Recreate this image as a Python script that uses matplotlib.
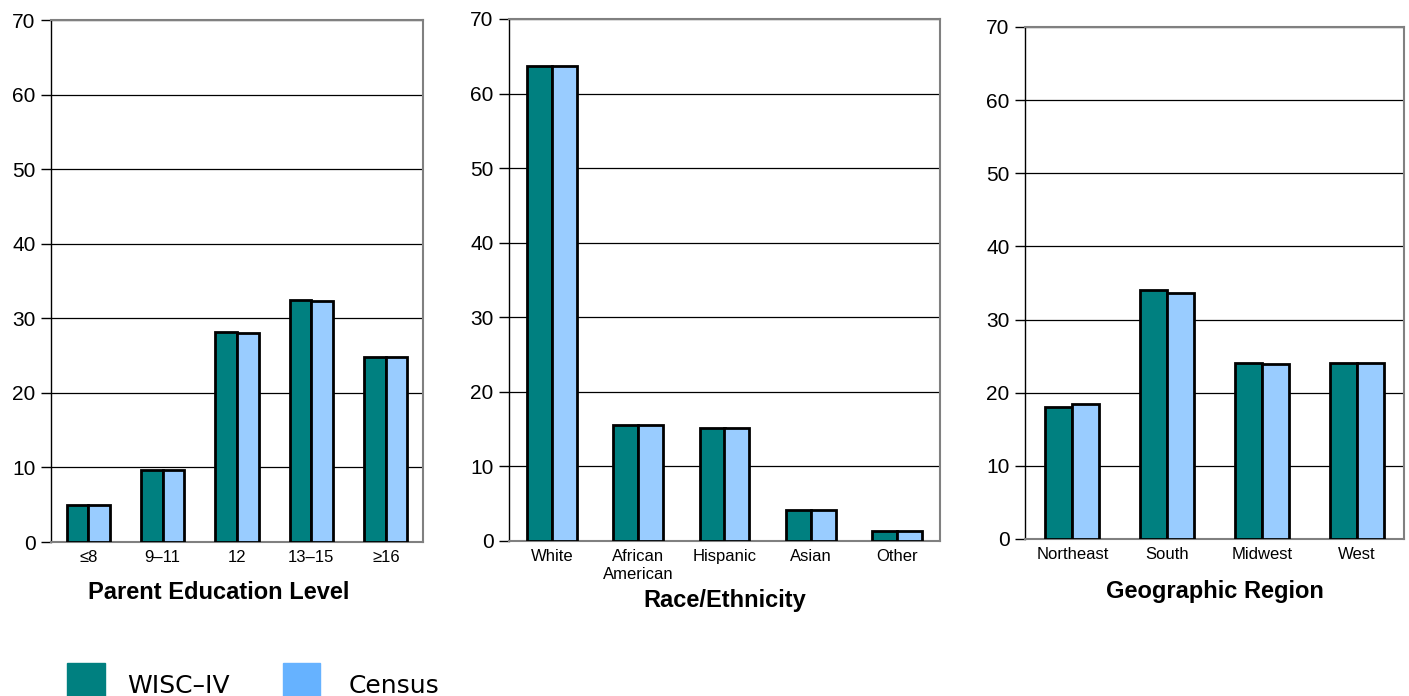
import matplotlib
matplotlib.use("Agg")
import matplotlib.pyplot as plt
import matplotlib.patches as mpatches
import numpy as np

plt.rcParams['font.family'] = ['Liberation Sans', 'DejaVu Sans']

# data
edu_labels = ['≤8', '9–11', '12', '13–15', '≥16']
edu_wisc = [4.9, 9.7, 28.1, 32.4, 24.8]
edu_census = [4.9, 9.7, 28.0, 32.3, 24.8]

race_labels = ['White', 'African\nAmerican', 'Hispanic', 'Asian', 'Other']
race_wisc = [63.7, 15.6, 15.2, 4.1, 1.3]
race_census = [63.7, 15.6, 15.2, 4.1, 1.3]

region_labels = ['Northeast', 'South', 'Midwest', 'West']
region_wisc = [18.0, 34.0, 24.0, 24.1]
region_census = [18.5, 33.7, 23.9, 24.0]

TEAL = '#008080'
LIGHT = '#99CCFF'
W, H = 1409, 696

fig = plt.figure(figsize=(W / 100, H / 100), dpi=100)


def px_axes(left, top, right, bottom):
    return fig.add_axes([left / W, 1 - bottom / H, (right - left) / W, (bottom - top) / H])


def panel(ax, labels, wisc, census, xlabel, bw, xlab_pad):
    n = len(labels)
    x = np.arange(n)
    ax.bar(x - bw / 2, wisc, bw, color=TEAL, edgecolor='black', linewidth=2.0, zorder=3)
    ax.bar(x + bw / 2, census, bw, color=LIGHT, edgecolor='black', linewidth=2.0, zorder=3)
    ax.set_xlim(-0.5, n - 0.5)
    ax.set_ylim(0, 70)
    ax.set_yticks(range(0, 71, 10))
    ax.yaxis.grid(True, color='black', linewidth=0.9, zorder=0)
    ax.set_axisbelow(True)
    ax.set_xticks(x)
    ax.set_xticklabels(labels, fontsize=12)
    ax.tick_params(axis='x', length=0, pad=6)
    ax.tick_params(axis='y', labelsize=15, length=7, width=1, pad=4)
    for s in ['top', 'right', 'bottom']:
        ax.spines[s].set_color('#808080')
        ax.spines[s].set_linewidth(1.5)
    ax.spines['left'].set_color('black')
    ax.spines['left'].set_linewidth(1)
    ax.set_xlabel(xlabel, fontsize=17, fontweight='bold', labelpad=xlab_pad)


ax1 = px_axes(51, 20, 423, 542)
panel(ax1, edu_labels, edu_wisc, edu_census, 'Parent Education Level', 0.29, 11)
ax1.xaxis.label.set_x(0.45)

ax2 = px_axes(509, 19, 940, 541)
panel(ax2, race_labels, race_wisc, race_census, 'Race/Ethnicity', 0.29, 5)

ax3 = px_axes(1025, 27, 1404, 539)
panel(ax3, region_labels, region_wisc, region_census, 'Geographic Region', 0.285, 13)

# legend at the bottom
fig.patches.append(mpatches.Rectangle((67 / W, 0), 38 / W, 33 / H, color=TEAL,
                                      transform=fig.transFigure, figure=fig))
fig.patches.append(mpatches.Rectangle((283 / W, 0), 37 / W, 33 / H, color='#66B2FF',
                                      transform=fig.transFigure, figure=fig))
fig.text(127 / W, 1 - 693 / H, 'WISC–IV', fontsize=18, family='DejaVu Sans', va='baseline')
fig.text(349 / W, 1 - 693 / H, 'Census', fontsize=18, family='DejaVu Sans', va='baseline')

fig.savefig('out.png', dpi=100, facecolor='white')
